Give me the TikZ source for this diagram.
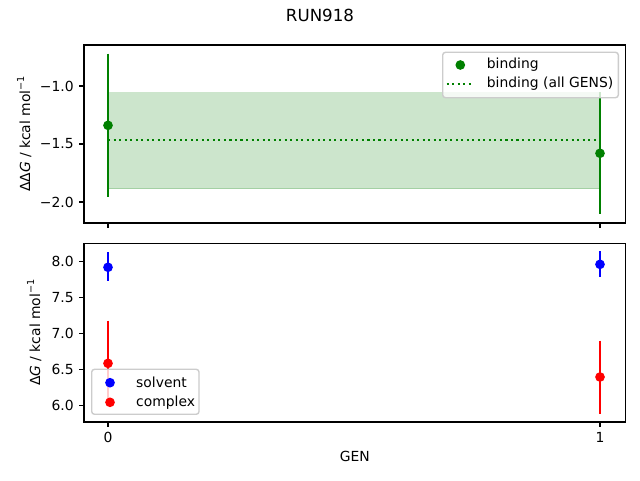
\documentclass[tikz,border=0pt]{standalone}
\usepackage{fontspec}
\setmainfont{DejaVu Sans}
\usetikzlibrary{positioning}
\definecolor{mplgreen}{RGB}{0,128,0}
\definecolor{mplblue}{RGB}{0,0,255}
\definecolor{mplred}{RGB}{255,0,0}
\definecolor{legendedge}{RGB}{204,204,204}
\newcommand{\molinv}{mol\raisebox{0.42em}{\fontsize{9.7}{10}\selectfont −1}}

\begin{document}
\begin{tikzpicture}[x=1pt,y=1pt,
  every node/.style={font=\fontsize{13.89}{16}\selectfont, inner sep=0pt},
  spine/.style={line width=1.11pt},
  tick/.style={line width=1.11pt},
  bar/.style={line width=2.08pt},
  dot/.style={circle, minimum size=9.7pt, inner sep=0pt},
  legbox/.style={draw=legendedge, fill=white, fill opacity=0.8, line width=1.39pt, rounded corners=2.8pt},
  allgens/.style={mplgreen, line width=2.08pt, dash pattern=on 2.08pt off 3.44pt}]

  \fill[white] (0,0) rectangle (640,480);
  \useasboundingbox (0,0) rectangle (640,480);

  \node[font=\fontsize{16.67}{20}\selectfont, anchor=base] (title) at (320,458.3) {RUN918};

  % binding panel
  \begin{scope}[shift={(108,510)}, xscale=492, yscale=116]
    \filldraw[mplgreen, fill opacity=0.2, draw opacity=0.2, line width=1.39pt]
      (0,-1.058) rectangle (1,-1.885);
    \draw[allgens] (0,-1.463) -- (1,-1.463);
    \draw[bar, mplgreen] (0,-0.72) -- (0,-1.955);
    \draw[bar, mplgreen] (1,-1.054) -- (1,-2.106);
    \node[dot, fill=mplgreen] (bind0) at (0,-1.339) {};
    \node[dot, fill=mplgreen] (bind1) at (1,-1.580) {};
  \end{scope}
  \draw[spine] (84,257) rectangle (625.5,435);
  \foreach \v/\t in {-1.0/−1.0,-1.5/−1.5,-2.0/−2.0}
    \draw[tick] (84,{510+116*\v}) -- ++(-4.9,0) node[left=4.9pt] {\t};
  \foreach \g in {0,1}
    \draw[tick] ({108+492*\g},257) -- ++(0,-4.9);
  \node[rotate=90, anchor=base] (ddglabel) at (30,346) {ΔΔ\textit{G} / kcal \molinv};

  % solvent / complex panel
  \begin{scope}[shift={(108,-357.3)}, xscale=492, yscale=72]
    \draw[bar, mplblue] (0,8.129) -- (0,7.731);
    \draw[bar, mplblue] (1,8.143) -- (1,7.786);
    \node[dot, fill=mplblue] (solv0) at (0,7.917) {};
    \node[dot, fill=mplblue] (solv1) at (1,7.958) {};
    \draw[bar, mplred] (0,7.175) -- (0,5.991);
    \draw[bar, mplred] (1,6.897) -- (1,5.883);
    \node[dot, fill=mplred] (cplx0) at (0,6.583) {};
    \node[dot, fill=mplred] (cplx1) at (1,6.393) {};
  \end{scope}
  \draw[spine] (84,58) rectangle (625.5,236.7);
  \foreach \v in {6.0,6.5,7.0,7.5,8.0}
    \draw[tick] (84,{-357.3+72*\v}) -- ++(-4.9,0) node[left=4.9pt] {\v};
  \foreach \g in {0,1}
    \draw[tick] ({108+492*\g},58) -- ++(0,-4.9) node[below=4.9pt] {\g};
  \node[rotate=90, anchor=base] (dglabel) at (40,147.35) {Δ\textit{G} / kcal \molinv};
  \node[anchor=base] (genlabel) at (354.8,18.3) {GEN};

  % legends
  \draw[legbox] (442.7,382.3) rectangle (618.3,427.7);
  \node[dot, fill=mplgreen] (legbind) at (460.3,415) {};
  \node[anchor=west] (legbindtxt) at (486.7,415) {binding};
  \coordinate (allgensa) at (446.7,396.3);
  \coordinate (allgensb) at (474,396.3);
  \draw[allgens] (allgensa) -- (allgensb);
  \node[anchor=west] (legalltxt) at (486.7,396.3) {binding (all GENS)};

  \draw[legbox] (91.7,65.7) rectangle (199,110.7);
  \node[dot, fill=mplblue] (legsolv) at (110,97.3) {};
  \node[anchor=west] (legsolvtxt) at (136,97.3) {solvent};
  \node[dot, fill=mplred] (legcplx) at (110,77.7) {};
  \node[anchor=west] (legcplxtxt) at (136,77.7) {complex};

\end{tikzpicture}
\end{document}
